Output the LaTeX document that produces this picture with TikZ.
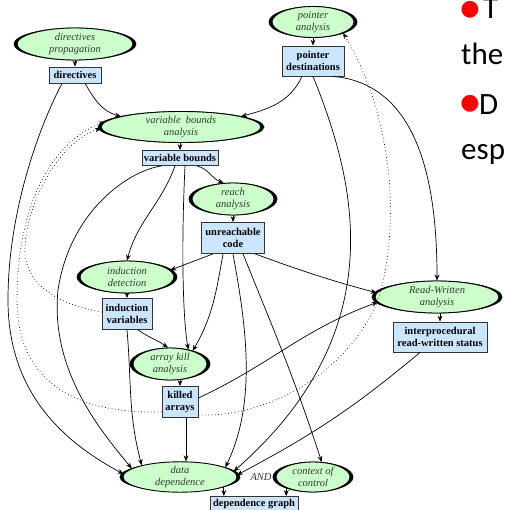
\documentclass[tikz,border=0pt]{standalone}
\usepackage{fontspec}
\setmainfont{Liberation Serif}
\newfontfamily\slidefont{Carlito}
\newfontfamily\bulletfont{DejaVu Sans}
\usetikzlibrary{arrows.meta,shapes.geometric,calc}

\definecolor{ovalfill}{HTML}{CCFFCC}
\definecolor{boxfill}{HTML}{CCE5FF}
\definecolor{ovaltext}{HTML}{2E3B2E}

\tikzset{
  oval/.style={ellipse, draw=black, line width=0.9pt, fill=ovalfill, inner sep=0pt,
    text=ovaltext, font=\fontsize{10.5}{12}\selectfont\itshape, align=center},
  databox/.style={rectangle, draw=black!80, line width=0.8pt, fill=boxfill, inner sep=0pt,
    font=\fontsize{10.5}{12}\selectfont\bfseries, align=center},
  flow/.style={-{Stealth[length=6pt,width=4.8pt]}, line width=0.7pt},
  hint/.style={flow, dash pattern=on 0.7pt off 2.6pt},
  slidetext/.style={inner sep=0pt, font=\fontsize{31}{36}\selectfont\slidefont},
  bulletmark/.style={inner sep=0pt, text=red, font=\fontsize{22}{22}\selectfont\bulletfont},
}

% analysis oval with a heavy rim at both ends: name, x, y, width, height, text
\newcommand\analysisoval[6]{%
  \fill[black] (#2,#3) ellipse [x radius=#4/2+3.4, y radius=#5/2+0.3];
  \node[oval, minimum width=#4, minimum height=#5] (#1) at (#2,#3) {#6};
}

\begin{document}
\begin{tikzpicture}[x=1pt,y=-1pt]
\useasboundingbox[fill=white] (0,0) rectangle (504,510);

% analyses
\analysisoval{dp}{75}{44}{116}{32}{directives\\propagation}
\analysisoval{pa}{313}{22}{82}{31}{pointer\\analysis}
\analysisoval{vba}{181}{127}{160}{31}{variable\ \ bounds\\analysis}
\analysisoval{ra}{233}{199}{82}{32}{reach\\analysis}
\analysisoval{idet}{127}{277}{94}{32}{induction\\detection}
\analysisoval{aka}{170}{364}{74}{32}{array kill\\analysis}
\analysisoval{rwa}{437}{297}{124}{32}{Read-Written\\analysis}
\analysisoval{dd}{180}{477}{114}{29}{data\\dependence}
\analysisoval{cc}{313}{477}{74}{30}{context of\\control}

% results
\node[databox, minimum width=52, minimum height=16] (dir) at (75,75) {directives};
\node[databox, minimum width=62, minimum height=30] (pd) at (313,61) {pointer\\destinations};
\node[databox, minimum width=76, minimum height=15] (vb) at (180,158) {variable bounds};
\node[databox, minimum width=63, minimum height=31] (uc) at (233,238) {unreachable\\code};
\node[databox, minimum width=50, minimum height=31] (iv) at (127,314) {induction\\variables};
\node[databox, minimum width=36, minimum height=31] (ka) at (180,402) {killed\\arrays};
\node[databox, minimum width=94, minimum height=30] (irw) at (440,337) {interprocedural\\read-written status};
\node[databox, minimum width=88, minimum height=15] (dg) at (254,504) {dependence graph};

\node[inner sep=0pt, text=ovaltext, font=\fontsize{10.5}{11}\selectfont\itshape] (andlbl) at (261,477) {AND};

% analysis -> result
\draw[flow] (dp.south) -- (dir.north);
\draw[flow] (pa.south) -- (pd.north);
\draw[flow] (vb.north |- vba.south) -- (vb.north);
\draw[flow] (ra.south) -- (uc.north);
\draw[flow] (idet.south) -- (iv.north);
\draw[flow] (ka.north |- aka.south) -- (ka.north);
\draw[flow] (irw.north |- rwa.south) -- (irw.north);
\draw[flow] (dd.-13) -- (dd.-13 |- dg.north);
\draw[flow] (cc.-158) -- (cc.-158 |- dg.north);

% result -> analysis
\draw[flow] ([xshift=10pt]dir.south) to[out=-60,in=165] (vba.170);
\draw[flow] ([xshift=-13pt]dir.south) .. controls (40,125) and (8,210) .. (8,300)
            .. controls (8,390) and (60,440) .. (dd.177);
\draw[flow] ([xshift=-11pt]pd.south) to[out=-115,in=15] (vba.10);
\draw[flow] ([xshift=20pt]pd.south) to[out=-5,in=90] (rwa.north);
\draw[flow] (pd.south) .. controls (355,180) and (395,330) .. (dd.6);

\draw[flow] ([xshift=-18pt]vb.south) .. controls (130,170) and (70,210) .. (58,290)
            .. controls (50,370) and (100,430) .. (dd.170);
\draw[flow] ([xshift=-5pt]vb.south) to[out=-110,in=75] (idet.north);
\draw[flow] ([xshift=5pt]vb.south) .. controls (181,250) and (183,320) .. (aka.38);
\draw[flow] ([xshift=17pt]vb.south) to[out=-15,in=160] (ra.120);

\draw[flow] ([xshift=-20pt]uc.south) -- (idet.9);
\draw[flow] ([xshift=-10pt]uc.south) to[out=-100,in=60] (aka.30);
\draw[flow] (uc.south) .. controls (245,320) and (258,400) .. (dd.12);
\draw[flow] ([xshift=10pt]uc.south) to[out=-68,in=108] (cc.60);
\draw[flow] ([xshift=22pt]uc.south) to[out=-20,in=165] (rwa.176);

\draw[flow] (iv.south) to[out=-85,in=105] (dd.163);
\draw[flow] ([xshift=11pt]iv.south) to[out=-35,in=145] (aka.97);

\draw[flow] ([yshift=4pt]ka.east) to[out=25,in=200] (rwa.185);
\draw[flow] ([xshift=6pt]ka.south) -- ([xshift=6pt]dd.north);

\draw[flow] ([xshift=-20pt]irw.south) to[out=-140,in=28] (dd.2);

% feedback
\draw[hint] ([yshift=2pt]iv.west) .. controls (60,305) and (22,285) .. (25,245)
            .. controls (30,190) and (65,140) .. (vba.181);
\draw[hint] ([yshift=-10pt]ka.west) .. controls (80,414) and (17,385) .. (17,300)
            .. controls (17,200) and (55,140) .. (vba.176);
\draw[hint] ([yshift=-13pt]ka.east) .. controls (270,418) and (350,370) .. (378,300)
            .. controls (400,230) and (395,120) .. (pa.-20);

% slide text beside the diagram
\node[bulletmark] (b1) at (470,10) {●};
\node[slidetext, anchor=base west] (t1) at (483,19) {T};
\node[slidetext, anchor=base west] (t2) at (461,65) {the};
\node[bulletmark] (b2) at (470,104) {●};
\node[slidetext, anchor=base west] (t3) at (479,115) {D};
\node[slidetext, anchor=base west] (t4) at (461,160) {esp};
\end{tikzpicture}
\end{document}
